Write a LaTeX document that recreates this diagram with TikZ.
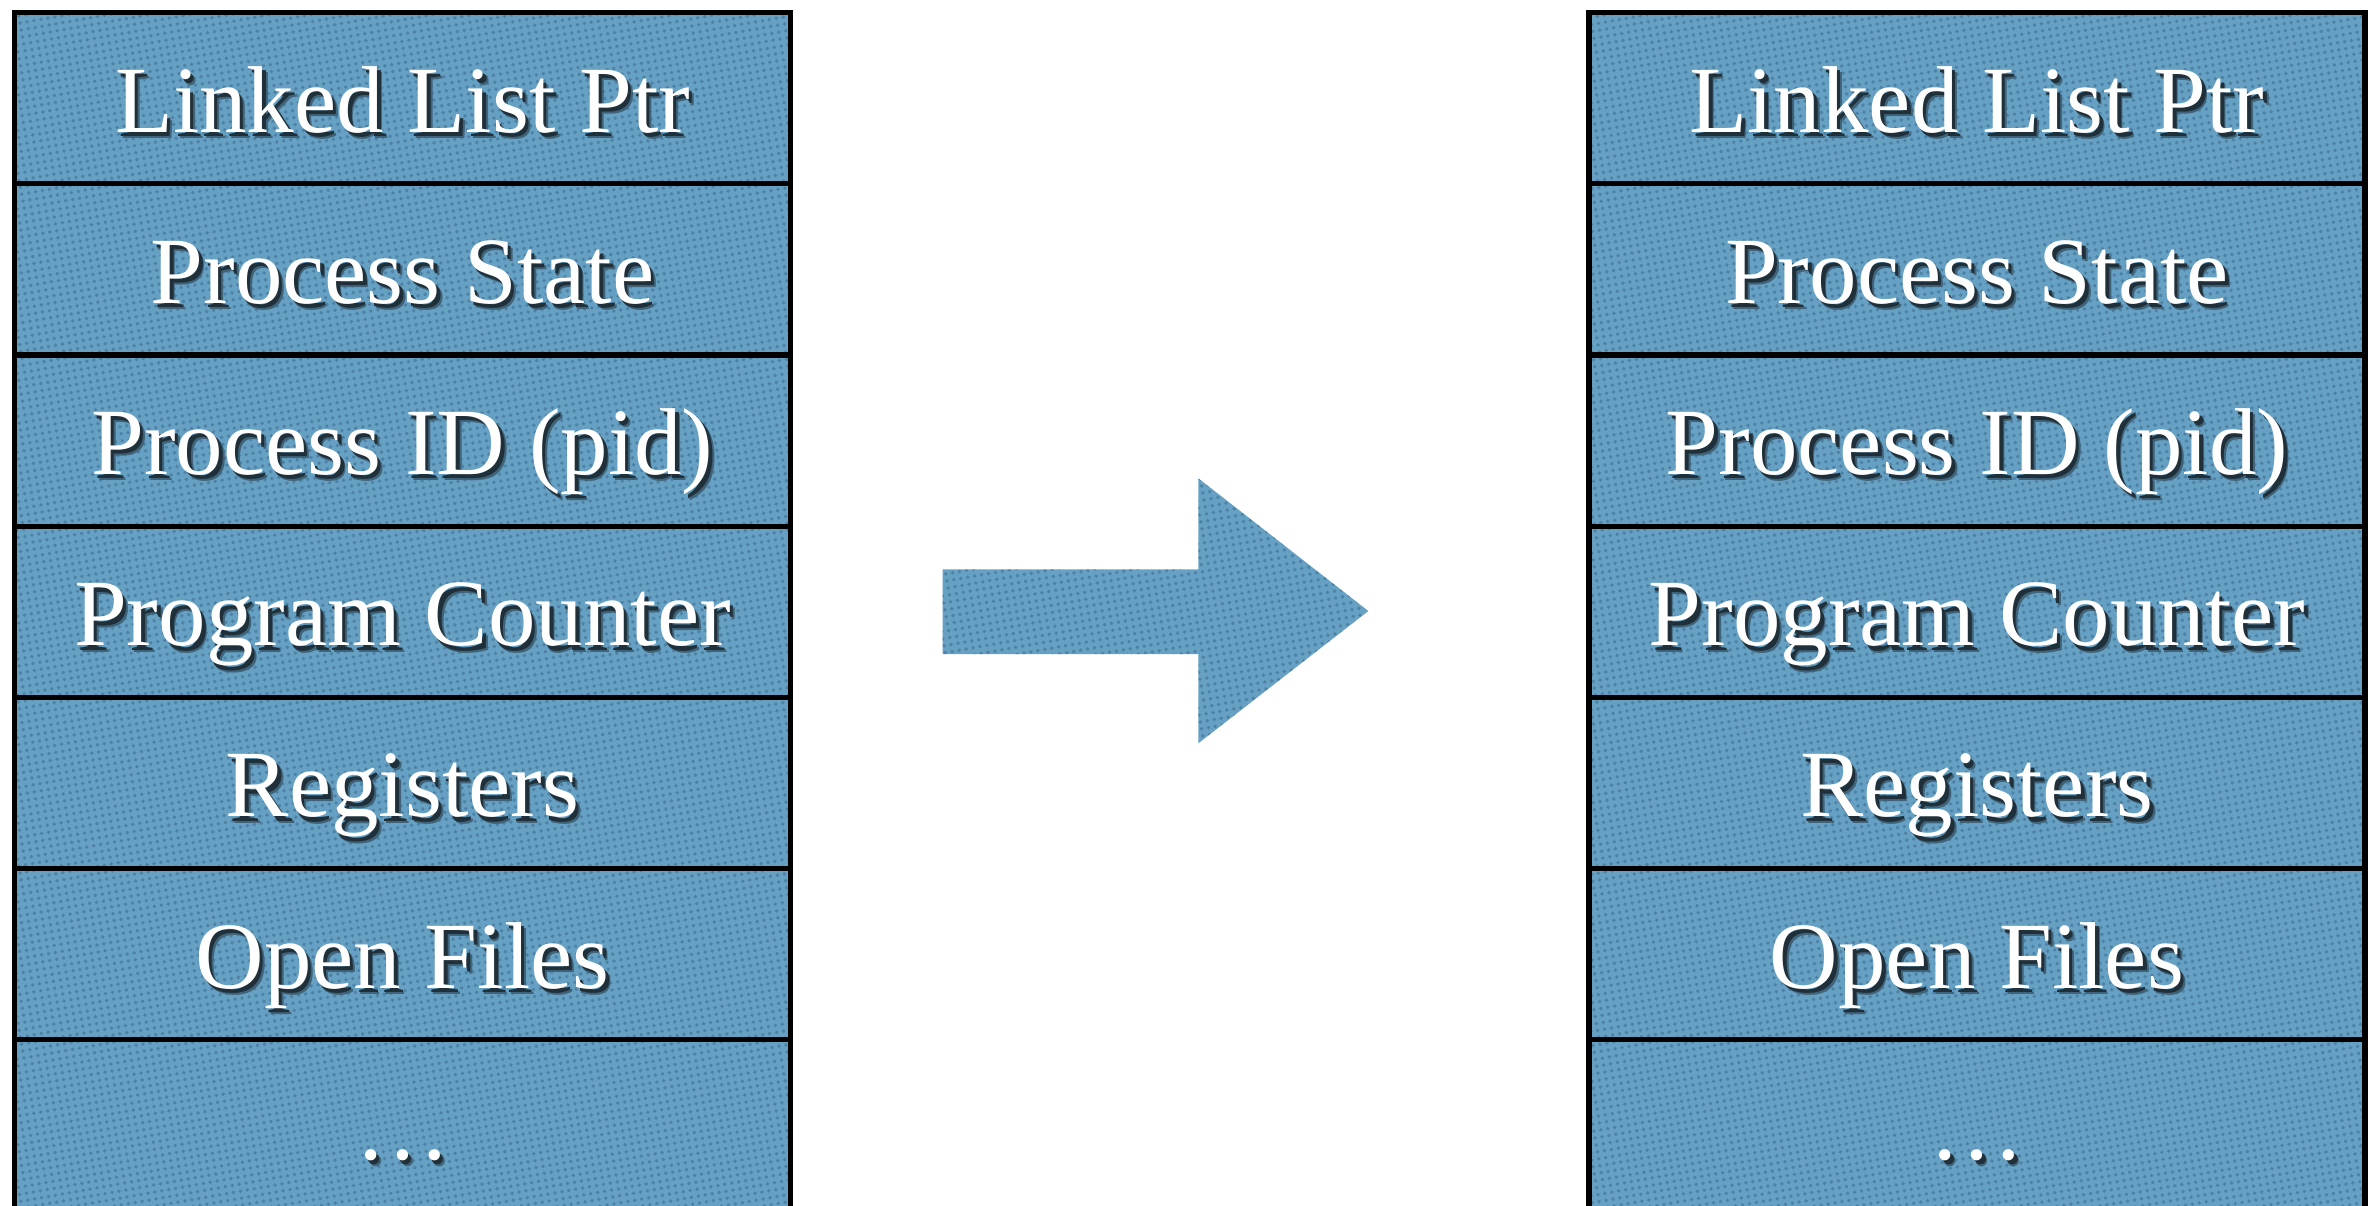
\documentclass[tikz,border=0pt]{standalone}
\usepackage{fontspec}
\setmainfont{Liberation Serif}
\usetikzlibrary{patterns.meta}

\definecolor{cellblue}{HTML}{66A0C3}
\definecolor{celldot}{HTML}{36668A}
\colorlet{shadeouter}{cellblue!62!black}
\colorlet{shadeinner}{cellblue!30!black}

% fine diagonal dot texture laid over the blue fill
\tikzdeclarepattern{
  name=weave, type=uncolored,
  bounding box={(-1pt,-1pt) and (1pt,1pt)},
  tile size={(2pt,2pt)},
  tile transformation={rotate=10},
  code={\fill (0,0) circle (0.55pt);}
}

% white lettering with a soft drop shadow below and to the right
\newcommand\dropshadowed[1]{%
  \makebox[0pt][l]{\kern1.5pt\raisebox{-1.8pt}{\color{shadeouter}#1}}%
  \makebox[0pt][l]{\kern1.0pt\raisebox{-1.2pt}{\color{shadeinner}#1}}%
  #1}

\tikzset{
  textured/.style={fill=cellblue,
    postaction={fill opacity=0.5, pattern=weave, pattern color=celldot}},
  cellbox/.style={textured, draw=none, anchor=north west,
    minimum width=7.755cm, minimum height=1.712cm, inner sep=0pt, outer sep=0pt},
  cellrule/.style={draw=black, line width=1.45pt},
  celltext/.style={anchor=base, inner sep=0pt, text=white,
    font=\fontsize{27}{31}\selectfont}
}

\begin{document}
\begin{tikzpicture}[x=0.01cm, y=-0.01cm]
\useasboundingbox (0,0) rectangle (2374,1205);

\begin{scope}
\clip (0,0) rectangle (2374,1205);
% two PCB stacks
\foreach \s/\x in {L/14.5, R/1589}{
  \foreach \i in {1,...,7}{
    \node[cellbox] (\s\i) at (\x, {12.5+(\i-1)*171.2}) {};
  }
  \foreach \i in {1,...,7}{
    \draw[cellrule] (\s\i.north west) rectangle (\s\i.south east);
  }
  \foreach \i/\t in {1/Linked List Ptr, 2/Process State, 3/Process ID (pid),
                     4/Program Counter, 5/Registers, 6/Open Files, 7/\dots}{
    \node[celltext] (\s\i-t) at (\s\i.center) [yshift=-0.34cm] {\dropshadowed{\t}};
  }
}
\end{scope}

% block arrow between the stacks
\fill[textured] (942.7,569.3) -- (1198.3,569.3) -- (1198.3,478.3)
  -- (1368.3,611) -- (1198.3,743.3) -- (1198.3,654) -- (942.7,654) -- cycle;
\end{tikzpicture}
\end{document}
